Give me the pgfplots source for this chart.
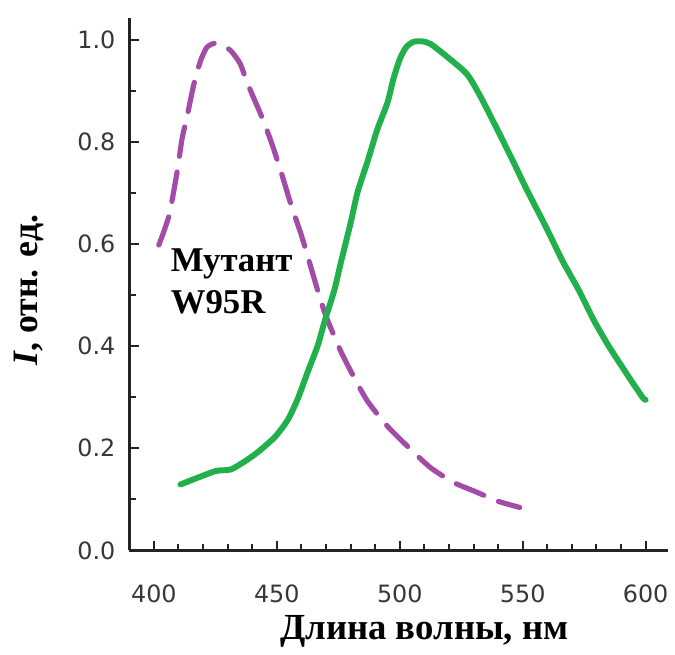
\documentclass[border=0pt]{standalone}
\usepackage{fontspec}
\setmainfont{Liberation Serif}
\newfontfamily\tickfont{DejaVu Sans}
\usepackage{pgfplots}
\pgfplotsset{compat=1.18}

\definecolor{specgreen}{RGB}{34,176,76}
\definecolor{specviolet}{RGB}{162,76,168}
\definecolor{axisgray}{RGB}{35,35,35}
\definecolor{tickgray}{RGB}{55,55,55}

\begin{document}
\begin{tikzpicture}
\begin{axis}[
  scale only axis,
  width=271pt, height=268pt,
  xmin=390, xmax=609, ymin=0, ymax=1.043,
  axis x line*=bottom, axis y line*=left,
  axis line style={axisgray, line width=1.35pt},
  tick align=inside,
  xtick={400,450,...,600},
  ytick={0,0.2,...,1.0},
  minor x tick num=4,
  minor y tick num=1,
  major tick length=4.8pt, minor tick length=3.3pt,
  every tick/.style={axisgray, line width=1pt},
  tick label style={font=\tickfont\fontsize{12}{14}\selectfont, text=tickgray},
  /pgf/number format/assume math mode=true,
  xticklabel style={yshift=-14pt, /pgf/number format/.cd, fixed, precision=0, 1000 sep={}},
  yticklabel style={xshift=-3.5pt, /pgf/number format/.cd, fixed, fixed zerofill, precision=1},
  xlabel={\textbf{Длина волны, нм}},
  ylabel={\textbf{\textit{I}, отн. ед.}},
  xlabel style={font=\fontsize{18.5}{22}\selectfont, at={(axis description cs:0.548,0)}, anchor=center, yshift=-41pt},
  ylabel style={font=\fontsize{18}{21}\selectfont, at={(axis description cs:0,0.5)}, anchor=center, yshift=50.5pt, xshift=-3pt},
  clip=false,
]
% overall drawing area
\path (axis cs:337.4,-0.191) rectangle (axis cs:610.1,1.078);

% W95R mutant: dashed violet spectrum
\addplot[specviolet, line width=2.6pt, line cap=round, line join=round,
  dash pattern=on 15pt off 8pt, smooth, tension=0.4] coordinates {
(402.0,0.598) (406.1,0.655) (409.4,0.740) (411.4,0.805) (413.5,0.850)
(416.2,0.912) (418.9,0.958) (421.5,0.985) (424.5,0.993) (428.0,0.990)
(431.6,0.977) (435.0,0.954) (437.3,0.925) (439.7,0.896) (443.8,0.850)
(447.8,0.799) (451.8,0.740) (455.9,0.675) (460.0,0.617) (464.0,0.552)
(468.0,0.487) (470.7,0.450) (476.1,0.389) (481.5,0.338) (486.9,0.292)
(495.0,0.243) (504.4,0.198) (512.5,0.162) (521.9,0.133) (531.3,0.114)
(539.4,0.097) (548.8,0.084)
};

% green spectrum
\addplot[specgreen, line width=3pt, line cap=round, line join=round,
  smooth, tension=0.4] coordinates {
(410.8,0.129) (424.9,0.155) (431.6,0.159) (441.1,0.188) (449.2,0.222)
(454.5,0.256) (458.6,0.298) (462.6,0.350) (466.7,0.402) (469.4,0.448)
(473.4,0.510) (476.1,0.565) (480.1,0.643) (482.8,0.701) (486.9,0.762)
(490.9,0.825) (495.0,0.877) (497.5,0.925) (500.0,0.962) (502.5,0.985)
(505.5,0.996) (509.0,0.997) (512.5,0.992) (519.2,0.967) (527.3,0.933)
(532.7,0.890) (539.4,0.827) (546.1,0.762) (551.5,0.708) (559.6,0.632)
(566.3,0.566) (573.0,0.508) (579.0,0.450) (585.0,0.400) (592.0,0.348)
(598.7,0.300) (600.0,0.295)
};

\node[anchor=north west, inner sep=0pt, align=left,
  font=\bfseries\fontsize{17.5}{21}\selectfont]
  at (axis cs:406.7,0.592) {Мутант\\W95R};
\end{axis}
\end{tikzpicture}
\end{document}
